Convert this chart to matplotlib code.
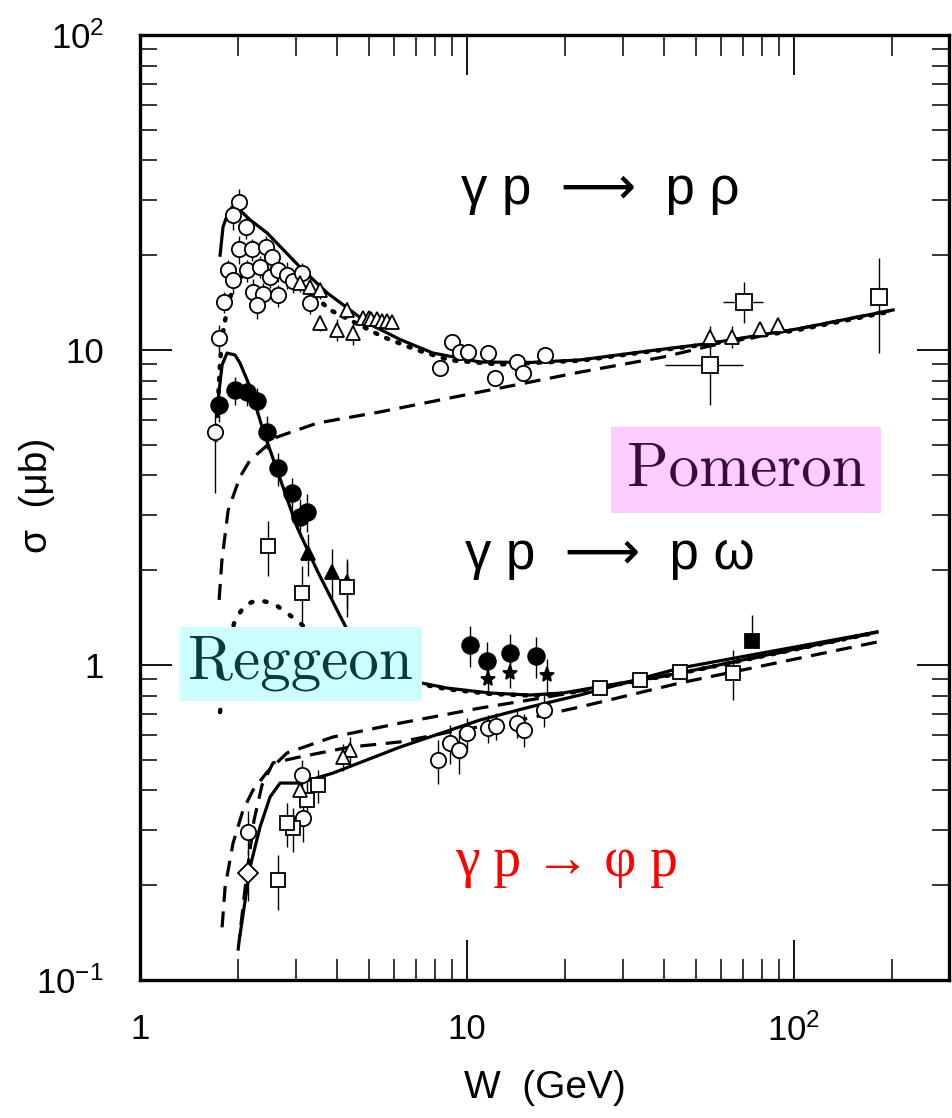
import numpy as np
import matplotlib.pyplot as plt
from matplotlib.ticker import LogLocator, NullFormatter

plt.rcParams['font.family'] = ['Liberation Sans', 'DejaVu Sans']
plt.rcParams['mathtext.fontset'] = 'custom'
plt.rcParams['mathtext.rm'] = 'Liberation Sans'
plt.rcParams['mathtext.default'] = 'regular'

# ---------------- model curves (W in GeV, sigma in mub) ----------------
rho_tot_w = [1.757, 1.794, 1.858, 1.911, 2.02, 2.17, 2.45, 3.09, 3.73, 4.95, 6.24, 7.87,
             10.96, 15.6, 22.2, 33.8, 55.3, 104, 201]
rho_tot_s = [20.0, 24.6, 27.2, 28.4, 27.8, 25.9, 23.5, 18.3, 15.2, 12.2, 10.8, 9.78,
             9.16, 9.13, 9.30, 9.85, 10.5, 11.7, 13.4]

rho_pom_w = [1.745, 1.78, 1.86, 2.02, 2.17, 2.62, 3.48, 5.42, 10.96, 15.6, 22.2, 31.5,
             39.8, 55.3, 104, 201]
rho_pom_s = [1.61, 2.15, 3.10, 3.95, 4.47, 5.29, 5.86, 6.36, 7.36, 7.91, 8.51, 9.09,
             9.50, 10.3, 11.7, 13.4]

rho_dot_w = [1.707, 1.732, 1.757, 1.782, 1.845, 1.925, 2.125, 2.45, 3.09, 3.81, 5.54,
             7.03, 8.87, 12.6, 22.2, 33.8, 55.3, 104, 201]
rho_dot_s = [5.18, 6.94, 9.09, 11.0, 13.4, 15.85, 17.9, 18.3, 16.3, 13.4, 11.0,
             10.0, 9.28, 9.0, 9.25, 9.8, 10.45, 11.6, 13.3]

om_tot_w = [1.732, 1.782, 1.845, 1.952, 2.022, 2.17, 2.378, 2.737, 3.021, 3.477, 4.004,
            4.386, 4.876, 5.815, 7.03, 8.69, 11.76, 15.58, 19.66, 24.98, 44.8, 179.4]
om_tot_s = [6.94, 8.96, 9.78, 9.64, 9.09, 7.63, 5.57, 3.67, 2.74, 2.00, 1.495,
            1.245, 1.052, 0.930, 0.883, 0.845, 0.815, 0.803, 0.815, 0.851, 0.943, 1.273]

om_dot_w = [7.03, 8.69, 11.76, 15.58, 19.66, 24.98, 44.8, 179.4]
om_dot_s = [0.875, 0.838, 0.81, 0.80, 0.81, 0.845, 0.94, 1.27]

om_pom_w = [1.782, 1.82, 1.925, 2.065, 2.216, 2.446, 2.816, 3.892, 6.24, 10.96, 17.56,
            24.98, 44.8, 179.4]
om_pom_s = [0.147, 0.197, 0.272, 0.346, 0.401, 0.457, 0.526, 0.591, 0.654, 0.730, 0.791,
            0.847, 0.94, 1.27]

om_reg_w = [1.757, 1.794, 1.858, 1.952, 2.095, 2.279, 2.551, 2.816, 3.085, 3.81, 5.05]
om_reg_s = [0.709, 0.896, 1.157, 1.389, 1.551, 1.608, 1.573, 1.463, 1.359, 1.116, 0.864]

phi_sol_w = [2.022, 2.17, 2.328, 2.498, 2.68, 3.085, 3.892, 6.24, 10.96, 15.58, 22.16,
             44.8, 179.4]
phi_sol_s = [0.139, 0.228, 0.306, 0.381, 0.422, 0.422, 0.454, 0.549, 0.669, 0.736, 0.803,
             0.978, 1.273]

phi_das_w = [1.994, 2.11, 2.232, 2.361, 2.551, 3.085, 4.386, 6.24, 8.87, 15.58, 22.16,
             44.8, 179.4]
phi_das_s = [0.124, 0.208, 0.322, 0.416, 0.489, 0.511, 0.549, 0.570, 0.613, 0.679, 0.736,
             0.877, 1.183]

# ---------------- data points ----------------
rho_c_w = [2.01, 1.93, 2.11, 2.01, 2.20, 2.43, 2.53, 1.86, 1.93, 2.12, 2.33, 2.50, 2.65,
           2.81, 2.94, 3.12, 2.22, 2.38, 2.65, 2.28, 1.80, 1.74, 3.31,
           8.27, 9.00, 9.52, 10.07, 11.6, 12.2, 14.2, 14.8, 17.3]
rho_c_s = [29.6, 26.8, 24.5, 20.9, 20.9, 21.3, 19.7, 17.9, 16.7, 17.9, 18.4, 17.1, 17.9,
           17.3, 16.5, 17.5, 15.3, 15.1, 14.9, 13.9, 14.2, 10.9, 14.1,
           8.77, 10.6, 9.86, 9.86, 9.78, 8.15, 9.16, 8.45, 9.64]
rho_c_e = [0.10, 0.10, 0.08, 0.10, 0.08, 0.08, 0.08, 0.08, 0.10, 0.08, 0.08, 0.08, 0.08,
           0.10, 0.08, 0.08, 0.10, 0.08, 0.08, 0.10, 0.08, 0.10, 0.08,
           0.05, 0.05, 0.05, 0.05, 0.05, 0.05, 0.05, 0.05, 0.05]

rho_t_w = [3.55, 4.00, 4.48, 4.30, 3.09, 3.31, 3.55, 4.8, 5.0, 5.1, 5.3, 5.5, 5.7, 5.9,
           55.3, 64.6, 78.7, 89.4]
rho_t_s = [12.2, 11.6, 11.3, 13.4, 16.3, 15.8, 15.5, 12.6, 12.6, 12.5, 12.5, 12.4, 12.4, 12.3,
           11.0, 11.0, 11.7, 12.0]
rho_t_e = [0.06, 0.08, 0.08, 0.06, 0.06, 0.06, 0.06, 0.03, 0.03, 0.03, 0.03, 0.03, 0.03, 0.03,
           0.08, 0.08, 0.04, 0.04]

rho_sq_w = [70.3, 55.3, 182]
rho_sq_s = [14.2, 8.96, 14.7]
rho_sq_lo = [2.0, 2.27, 4.9]
rho_sq_hi = [2.2, 2.24, 4.9]
rho_sq_xlo = [9.6, 15.0, 0]
rho_sq_xhi = [10.1, 14.5, 0]

om_c_w = [1.74, 1.95, 2.13, 2.28, 2.44, 2.65, 2.91, 3.23, 3.09, 10.2, 11.5, 13.5, 16.3]
om_c_s = [6.69, 7.46, 7.37, 6.89, 5.50, 4.21, 3.51, 3.07, 2.96, 1.16, 1.03, 1.09, 1.07]
om_c_e = [0.12, 0.10, 0.10, 0.10, 0.12, 0.12, 0.12, 0.14, 0.14, 0.15, 0.15, 0.15, 0.15]

om_tri_w = [3.27, 3.86, 4.29]
om_tri_s = [2.26, 1.98, 1.84]
om_tri_e = [0.15, 0.18, 0.18]

om_star_w = [11.6, 13.5, 17.6]
om_star_s = [0.90, 0.94, 0.93]
om_star_e = [0.10, 0.10, 0.12]

om_sq_w = [2.47, 3.12, 4.29, 65.1]
om_sq_s = [2.39, 1.69, 1.77, 0.943]
om_sq_e = [0.20, 0.22, 0.20, 0.18]

om_fsq_w = [74.2]
om_fsq_s = [1.19]

om_oc_w = [1.70]
om_oc_s = [5.50]
om_oc_lo = [1.98]
om_oc_hi = [0.95]

phi_c_w = [8.17, 8.87, 9.47, 10.0, 11.6, 12.3, 14.2, 14.9, 17.2, 2.14, 3.16, 3.12]
phi_c_s = [0.499, 0.564, 0.537, 0.607, 0.630, 0.640, 0.653, 0.622, 0.720, 0.296, 0.326, 0.447]
phi_c_e = [0.16, 0.14, 0.16, 0.12, 0.10, 0.10, 0.10, 0.12, 0.12, 0.16, 0.16, 0.12]

phi_d_w = [2.14]
phi_d_s = [0.218]

phi_sq_w = [2.65, 2.94, 3.23, 3.51, 2.81, 25.5, 33.8, 44.8]
phi_sq_s = [0.208, 0.303, 0.373, 0.416, 0.314, 0.845, 0.896, 0.95]
phi_sq_e = [0.20, 0.16, 0.14, 0.12, 0.16, 0.05, 0.05, 0.05]

phi_t_w = [3.09, 4.39, 4.18]
phi_t_s = [0.401, 0.537, 0.512]
phi_t_e = [0.12, 0.10, 0.10]

# ---------------- figure ----------------
fig = plt.figure(figsize=(9.52, 11.18), dpi=100)
ax = fig.add_axes([0.1471, 0.1234, 0.8498, 0.8453])
ax.set_xscale('log')
ax.set_yscale('log')

lw = 2.3
dash = (0, (5, 3))
ax.plot(rho_tot_w, rho_tot_s, color='black', lw=lw)
ax.plot(rho_pom_w, rho_pom_s, color='black', lw=lw, ls=dash)
ax.plot(rho_dot_w, rho_dot_s, color='black', lw=3.2, ls=(0, (0.5, 2.2)), dash_capstyle='round')
ax.plot(om_tot_w, om_tot_s, color='black', lw=lw)
ax.plot(om_dot_w, om_dot_s, color='black', lw=3.2, ls=(0, (0.5, 2.2)), dash_capstyle='round')
ax.plot(om_pom_w, om_pom_s, color='black', lw=lw, ls=dash)
ax.plot(om_reg_w, om_reg_s, color='black', lw=3.2, ls=(0, (0.5, 2.8)), dash_capstyle='round')
ax.plot(phi_sol_w, phi_sol_s, color='black', lw=lw)
ax.plot(phi_das_w, phi_das_s, color='black', lw=lw, ls=dash)


def pts(w, s, lo, hi=None, marker='o', filled=False, ms=10, xlo=None, xhi=None):
    w = np.array(w)
    s = np.array(s)
    lo = np.array(lo)
    hi = lo if hi is None else np.array(hi)
    xerr = None if xlo is None else [xlo, xhi]
    ax.errorbar(w, s, yerr=[lo, hi], xerr=xerr, fmt=marker, ms=ms,
                mfc='black' if filled else 'white', mec='black', mew=1.3,
                ecolor='black', elinewidth=1.0, capsize=0, zorder=3)


def rel(s, e):
    return list(np.array(s) * np.array(e))


pts(rho_c_w, rho_c_s, rel(rho_c_s, rho_c_e), marker='o', ms=11)
pts(rho_t_w, rho_t_s, rel(rho_t_s, rho_t_e), marker='^', ms=10)
pts(rho_sq_w, rho_sq_s, rho_sq_lo, rho_sq_hi, marker='s', ms=11,
    xlo=rho_sq_xlo, xhi=rho_sq_xhi)
pts(om_c_w, om_c_s, rel(om_c_s, om_c_e), marker='o', filled=True, ms=12)
pts(om_tri_w, om_tri_s, rel(om_tri_s, om_tri_e), marker='^', filled=True, ms=10)
pts(om_star_w, om_star_s, rel(om_star_s, om_star_e), marker='*', filled=True, ms=11)
pts(om_sq_w, om_sq_s, rel(om_sq_s, om_sq_e), marker='s', ms=10)
pts(om_fsq_w, om_fsq_s, [0.0], [0.25], marker='s', filled=True, ms=10)
pts(om_oc_w, om_oc_s, om_oc_lo, om_oc_hi, marker='o', ms=11)
pts(phi_c_w, phi_c_s, rel(phi_c_s, phi_c_e), marker='o', ms=11)
pts(phi_d_w, phi_d_s, [0.04], [0.04], marker='D', ms=10)
pts(phi_sq_w, phi_sq_s, rel(phi_sq_s, phi_sq_e), marker='s', ms=10)
pts(phi_t_w, phi_t_s, rel(phi_t_s, phi_t_e), marker='^', ms=10)

# ---------------- axes styling ----------------
ax.set_xlim(1, 298)
ax.set_ylim(0.1, 100)
ax.set_xticks([1, 10, 100])
ax.set_xticklabels(['1', '10', '$10^{2}$'])
ax.set_yticks([0.1, 1, 10, 100])
ax.set_yticklabels(['$10^{-1}$', '1', '10', '$10^{2}$'])
ax.xaxis.set_minor_locator(LogLocator(base=10, subs=np.arange(2, 10)))
ax.yaxis.set_minor_locator(LogLocator(base=10, subs=np.arange(2, 10)))
ax.xaxis.set_minor_formatter(NullFormatter())
ax.yaxis.set_minor_formatter(NullFormatter())
ax.tick_params(which='both', direction='in', top=True, right=True, colors='black')
ax.tick_params(axis='x', which='major', length=29, width=1.3, pad=24, labelsize=25)
ax.tick_params(axis='x', which='minor', length=15, width=1.1)
ax.tick_params(axis='y', which='major', length=23, width=1.3, pad=26, labelsize=25)
ax.tick_params(axis='y', which='minor', length=12, width=1.1)
for sp in ax.spines.values():
    sp.set_linewidth(2.4)

fig.text(545 / 952, 1 - 1088 / 1118, 'W  (GeV)', ha='center', va='center', fontsize=28)
fig.text(37 / 952, 1 - 495 / 1118, 'σ  (μb)', ha='center', va='center', fontsize=28,
         rotation=90)

# ---------------- annotations ----------------
ax.text(25.5, 32.2, 'γ p  ⟶  p ρ', ha='center', va='center', fontsize=38, zorder=5)
ax.text(27.4, 2.23, 'γ p  ⟶  p ω', ha='center', va='center', fontsize=38, zorder=5)
ax.text(71.3, 4.16, 'Pomeron', ha='center', va='center', fontsize=44, family='cmr10',
        color='#3a0a3a', zorder=6,
        bbox=dict(boxstyle='square,pad=0.25', facecolor='#ffccff', edgecolor='none'))
ax.text(3.09, 1.01, 'Reggeon', ha='center', va='center', fontsize=44, family='cmr10',
        color='#0a3a3a', zorder=6,
        bbox=dict(boxstyle='square,pad=0.15', facecolor='#ccffff', edgecolor='none'))
ax.text(20.2, 0.237, 'γ p → φ p', ha='center', va='center', fontsize=40,
        family=['Liberation Serif', 'DejaVu Serif'], color='red', zorder=5)

fig.savefig('out.png', dpi=100, facecolor='white')
